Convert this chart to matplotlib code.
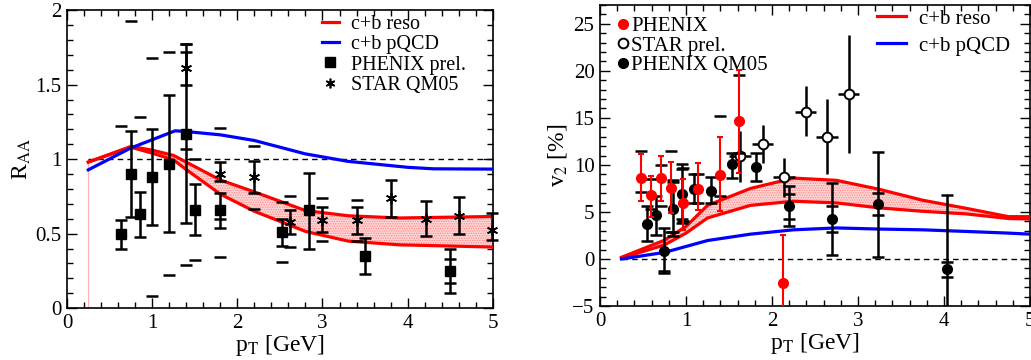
import matplotlib
matplotlib.use('Agg')
import matplotlib.pyplot as plt
import numpy as np
from matplotlib.ticker import MultipleLocator
from matplotlib.lines import Line2D

plt.rcParams['font.family'] = ['Liberation Serif', 'DejaVu Serif']
plt.rcParams['mathtext.fontset'] = 'stix'
plt.rcParams['hatch.linewidth'] = 0.6

# ---------------- Left panel (R_AA) data ----------------
reso_x_l = [0.25, 0.75, 1.0, 1.25, 1.4, 1.8, 2.2, 2.8, 3.3, 3.9, 5.0]
reso_up_l = [0.98, 1.085, 1.06, 1.025, 0.98, 0.86, 0.78, 0.655, 0.62, 0.605, 0.615]
reso_lo_l = [0.98, 1.08, 1.04, 0.995, 0.93, 0.765, 0.65, 0.515, 0.45, 0.425, 0.41]

pqcd_x_l = [0.25, 0.75, 1.0, 1.27, 1.4, 1.8, 2.2, 2.5, 2.8, 3.3, 4.0, 4.3, 5.0]
pqcd_y_l = [0.928, 1.075, 1.13, 1.19, 1.185, 1.163, 1.125, 1.08, 1.035, 0.985, 0.945, 0.935, 0.933]

ph_x = [0.63, 0.75, 0.86, 1.0, 1.2, 1.4, 1.5, 1.8, 2.53, 2.84, 3.5, 4.5]
ph_y = [0.50, 0.90, 0.63, 0.88, 0.97, 1.17, 0.66, 0.66, 0.51, 0.66, 0.35, 0.25]
ph_lo = [0.40, 0.61, 0.48, 0.56, 0.51, 0.57, 0.49, 0.54, 0.42, 0.40, 0.23, 0.10]
ph_hi = [0.59, 1.19, 0.78, 1.20, 1.43, 1.77, 0.83, 0.77, 0.60, 0.91, 0.47, 0.40]
ph_sys_hi = [1.22, 1.93, 1.28, 1.68, 1.72, 1.07, 1.00, 1.21, 0.71, np.nan, np.nan, 0.33]
ph_sys_lo = [np.nan, np.nan, np.nan, 0.08, 0.22, 0.29, 0.32, 0.34, 0.31, np.nan, np.nan, 0.17]

st_x = [1.4, 1.8, 2.2, 2.62, 3.0, 3.41, 3.81, 4.21, 4.6, 4.99]
st_y = [1.61, 0.90, 0.877, 0.58, 0.59, 0.59, 0.736, 0.60, 0.62, 0.523]
st_lo = [1.50, 0.85, 0.77, 0.50, 0.51, 0.50, 0.613, 0.483, 0.497, 0.456]
st_hi = [1.72, 0.98, 0.985, 0.66, 0.676, 0.676, 0.859, 0.718, 0.743, 0.64]
st_sys_hi = [1.77, np.nan, 1.09, 0.75, 0.74, 0.725, np.nan, np.nan, np.nan, np.nan]
st_sys_lo = [np.nan, 0.60, 0.665, 0.41, 0.45, 0.45, np.nan, np.nan, np.nan, np.nan]

# ---------------- Right panel (v2) data ----------------
reso_x_r = [0.25, 0.75, 1.0, 1.25, 1.75, 2.25, 2.75, 3.25, 3.75, 4.25, 4.75, 5.0]
reso_up_r = [0.18, 2.0, 3.46, 5.7, 7.5, 8.6, 8.36, 7.4, 6.25, 5.4, 4.5, 4.5]
reso_lo_r = [0.1, 1.5, 2.75, 4.36, 5.7, 6.14, 5.96, 5.43, 5.07, 4.8, 4.3, 4.25]

pqcd_x_r = [0.25, 0.75, 1.25, 1.75, 2.25, 2.75, 3.25, 3.75, 4.25, 4.75, 5.0]
pqcd_y_r = [0.0, 0.7, 1.96, 2.64, 3.1, 3.3, 3.18, 3.1, 2.93, 2.75, 2.64]

phr_x = [0.48, 0.59, 0.71, 0.83, 0.96, 1.14, 1.39, 1.62, 2.13]
phr_y = [8.64, 6.75, 8.57, 7.57, 5.9, 7.46, 8.93, 14.68, -2.6]
phr_lo = [6.14, 4.5, 6.14, 4.9, 3.1, 5.25, 5.07, 9.18, -7.0]
phr_hi = [11.2, 8.8, 10.96, 10.36, 8.46, 10.2, 12.93, 20.1, 2.5]
phr_sys_hi = [11.5, 8.5, 10.0, 11.5, 9.7, 9.0, 15.2, 19.6, np.nan]
phr_sys_lo = [7.1, 5.3, 5.6, 2.9, 4.0, 5.9, 6.7, 11.3, np.nan]

star_x = [1.63, 1.89, 2.14, 2.39, 2.64, 2.89]
star_y = [10.96, 12.18, 8.75, 15.68, 12.96, 17.57]
star_lo = [8.2, 10.25, 6.6, 13.1, 9.07, 11.3]
star_hi = [13.6, 14.2, 10.7, 18.4, 16.96, 23.8]
star_xerr = [0.125, 0.125, 0.125, 0.125, 0.125, 0.125]

qm_x = [0.55, 0.65, 0.744, 0.845, 0.95, 1.09, 1.29, 1.53, 1.81, 2.2, 2.7, 3.23, 4.03]
qm_y = [3.72, 4.68, 0.85, 5.32, 6.91, 7.41, 7.27, 10.07, 9.75, 5.6, 4.25, 5.86, -1.1]
qm_lo = [1.95, 2.55, -1.52, 2.45, 3.8, 5.93, 5.93, 8.6, 8.3, 3.46, 0.43, 0.25, -7.0]
qm_hi = [5.64, 6.7, 3.27, 8.4, 10.07, 9.04, 8.69, 11.24, 11.24, 7.75, 8.1, 11.4, 6.75]
qm_sys_hi = [np.nan, np.nan, np.nan, 8.2, 9.6, np.nan, np.nan, np.nan, np.nan, 6.9, 5.6, 7.0, -0.3]
qm_sys_lo = [np.nan, np.nan, -1.26, 2.9, 4.3, np.nan, np.nan, np.nan, np.nan, 4.3, 2.9, 4.7, -1.9]


def asym(y, lo, hi):
    y = np.asarray(y); lo = np.asarray(lo); hi = np.asarray(hi)
    return [y - lo, hi - y]


def style_axes(ax):
    ax.tick_params(which='both', direction='in', top=True, right=True, labelsize=15, pad=4)
    ax.tick_params(which='major', length=7, width=1)
    ax.tick_params(which='minor', length=4, width=1)
    for s in ax.spines.values():
        s.set_linewidth(1.2)


fig = plt.figure(figsize=(10.31, 3.6), dpi=100)
ax1 = fig.add_axes([0.065, 0.144, 0.413, 0.828])
ax2 = fig.add_axes([0.582, 0.150, 0.417, 0.836])

RED = '#ff0000'
BLUE = '#0000ff'

# ---- Left ----
ax1.hlines(1.0, 0.25, 5.0, color='black', lw=1, ls=(0, (4, 3)), zorder=1)
ax1.plot([reso_x_l[0], reso_x_l[0]], [0, reso_up_l[0]], color='#ffb0b0', lw=0.8, zorder=1)
ax1.fill_between(reso_x_l, reso_lo_l, reso_up_l, facecolor='#ffd6d6', edgecolor='#ff8080',
                 hatch='.......', lw=0, zorder=2)
ax1.plot(reso_x_l, reso_up_l, color=RED, lw=2.3, zorder=3)
ax1.plot(reso_x_l, reso_lo_l, color=RED, lw=2.3, zorder=3)
ax1.plot(pqcd_x_l, pqcd_y_l, color=BLUE, lw=2.3, zorder=3)

ax1.errorbar(ph_x, ph_y, yerr=asym(ph_y, ph_lo, ph_hi), fmt='s', color='black', ms=6.5,
             elinewidth=1.8, capsize=4.5, capthick=1.8, zorder=5)
ax1.plot(ph_x, ph_sys_hi, ls='none', marker='_', ms=8, mew=1.8, color='black', zorder=5)
ax1.plot(ph_x, ph_sys_lo, ls='none', marker='_', ms=8, mew=1.8, color='black', zorder=5)
ax1.errorbar(st_x, st_y, yerr=asym(st_y, st_lo, st_hi), fmt='none', ecolor='black',
             elinewidth=1.8, capsize=4.5, capthick=1.8, zorder=5, clip_on=False)
ax1.plot(st_x, st_y, ls='none', marker=(6, 2, 0), ms=8, mew=1.2, color='black', zorder=6,
         clip_on=False)
ax1.plot(st_x, st_sys_hi, ls='none', marker='_', ms=8, mew=1.8, color='black', zorder=5)
ax1.plot(st_x, st_sys_lo, ls='none', marker='_', ms=8, mew=1.8, color='black', zorder=5)

ax1.set_xlim(0, 5)
ax1.set_ylim(0, 2)
ax1.xaxis.set_major_locator(MultipleLocator(1))
ax1.xaxis.set_minor_locator(MultipleLocator(0.2))
ax1.yaxis.set_major_locator(MultipleLocator(0.5))
ax1.yaxis.set_minor_locator(MultipleLocator(0.1))
ax1.set_yticks([0, 0.5, 1, 1.5, 2])
ax1.set_yticklabels(['0', '0.5', '1', '1.5', '2'])
style_axes(ax1)
ax1.set_xlabel(r'p$_{\rm T}$ [GeV]', fontsize=17, labelpad=0)
ax1.set_ylabel(r'R$_{\rm AA}$', fontsize=17, labelpad=2)

h1 = [Line2D([], [], color=RED, lw=2.3),
      Line2D([], [], color=BLUE, lw=2.3),
      Line2D([], [], ls='none', marker='s', color='black', ms=6.5),
      Line2D([], [], ls='none', marker=(6, 2, 0), color='black', ms=7, mew=1.2)]
ax1.legend(h1, ['c+b reso', 'c+b pQCD', 'PHENIX prel.', 'STAR QM05'], loc='upper left',
           bbox_to_anchor=(0.565, 1.03), frameon=False, fontsize=14.5, handlelength=0.85,
           handletextpad=0.6, labelspacing=0.05, borderpad=0.2)

# ---- Right ----
ax2.hlines(0.0, 0.25, 5.0, color='black', lw=1, ls=(0, (4, 3)), zorder=1)
ax2.fill_between(reso_x_r, reso_lo_r, reso_up_r, facecolor='#ffd6d6', edgecolor='#ff8080',
                 hatch='.......', lw=0, zorder=2)
ax2.plot(reso_x_r, reso_up_r, color=RED, lw=2.3, zorder=3)
ax2.plot(reso_x_r, reso_lo_r, color=RED, lw=2.3, zorder=3)
ax2.plot(pqcd_x_r, pqcd_y_r, color=BLUE, lw=2.3, zorder=3)

ax2.errorbar(qm_x, qm_y, yerr=asym(qm_y, qm_lo, qm_hi), fmt='o', color='black', ms=7,
             elinewidth=1.8, capsize=4.5, capthick=1.8, zorder=5)
ax2.plot(qm_x, qm_sys_hi, ls='none', marker='_', ms=8, mew=1.8, color='black', zorder=5)
ax2.plot(qm_x, qm_sys_lo, ls='none', marker='_', ms=8, mew=1.8, color='black', zorder=5)
ax2.plot(phr_x, phr_sys_hi, ls='none', marker='_', ms=8, mew=1.8, color='black', zorder=5)
ax2.plot(phr_x, phr_sys_lo, ls='none', marker='_', ms=8, mew=1.8, color='black', zorder=5)
ax2.errorbar(phr_x, phr_y, yerr=asym(phr_y, phr_lo, phr_hi), fmt='o', color=RED, ms=7,
             elinewidth=1.5, capsize=2.5, capthick=1.5, zorder=6)
ax2.errorbar(star_x, star_y, yerr=asym(star_y, star_lo, star_hi), xerr=star_xerr, fmt='o',
             mfc='white', mec='black', color='black', ms=7, mew=1.4,
             elinewidth=1.8, capsize=0, zorder=4)

ax2.set_xlim(0, 5)
ax2.set_ylim(-5, 27)
ax2.xaxis.set_major_locator(MultipleLocator(1))
ax2.xaxis.set_minor_locator(MultipleLocator(0.2))
ax2.yaxis.set_major_locator(MultipleLocator(5))
ax2.yaxis.set_minor_locator(MultipleLocator(1))
style_axes(ax2)
ax2.set_xlabel(r'p$_{\rm T}$ [GeV]', fontsize=17, labelpad=0)
ax2.set_ylabel(r'v$_2$ [%]', fontsize=17, labelpad=2)

h2a = [Line2D([], [], ls='none', marker='o', color=RED, ms=7),
       Line2D([], [], ls='none', marker='o', mfc='white', mec='black', mew=1.4, ms=7),
       Line2D([], [], ls='none', marker='o', color='black', ms=7)]
leg2a = ax2.legend(h2a, ['PHENIX', 'STAR prel.', 'PHENIX QM05'], loc='upper left',
                   bbox_to_anchor=(0.005, 1.01), frameon=False, fontsize=15, handlelength=0.6,
                   handletextpad=0.1, labelspacing=0.0, borderpad=0.2)
ax2.add_artist(leg2a)
h2b = [Line2D([], [], color=RED, lw=2.3), Line2D([], [], color=BLUE, lw=2.3)]
ax2.legend(h2b, ['c+b reso', 'c+b pQCD'], loc='upper left', bbox_to_anchor=(0.61, 1.035),
           frameon=False, fontsize=15, handlelength=1.4, handletextpad=0.6,
           labelspacing=0.35, borderpad=0.2)

fig.savefig('out.png', dpi=100)
